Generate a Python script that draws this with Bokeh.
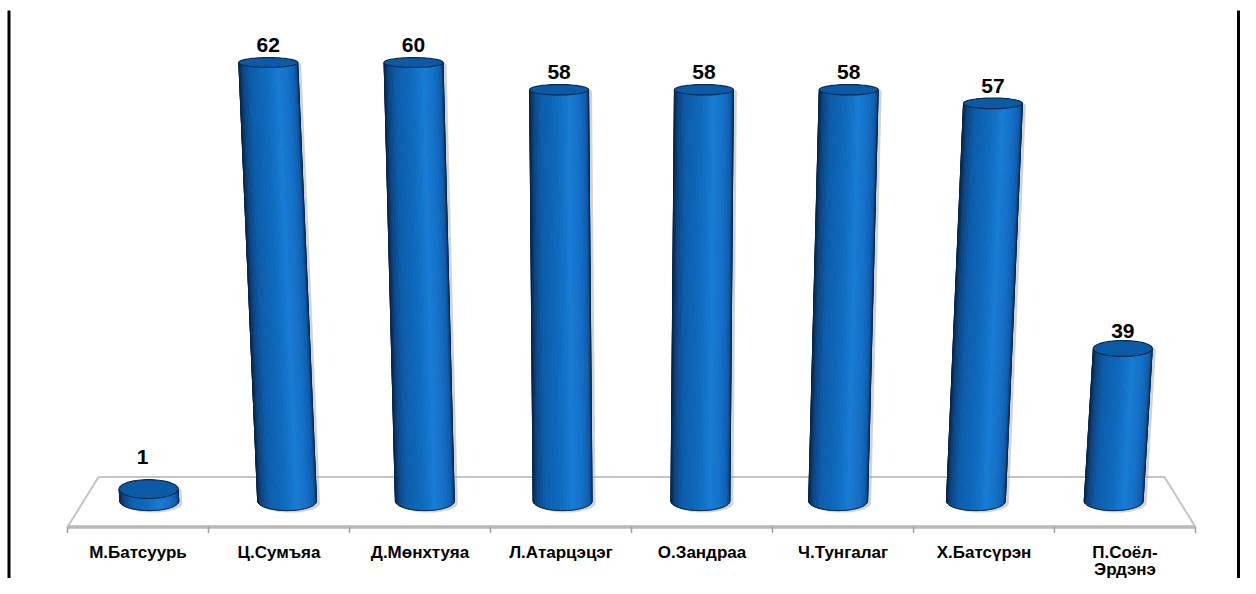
import numpy as np
from bokeh.plotting import figure
from bokeh.models import Range1d
from bokeh.core.properties import value
from bokeh.embed import file_html
from bokeh.resources import INLINE

# ---------------- data ----------------
names = ["М.Батсуурь", "Ц.Сумъяа", "Д.Мөнхтуяа", "Л.Атарцэцэг",
         "О.Зандраа", "Ч.Тунгалаг", "Х.Батсүрэн", "П.Соёл-\nЭрдэнэ"]
votes = [1, 62, 60, 58, 58, 58, 57, 39]
axis_min = 27.8
axis_max = 60

# ---------------- layout / projection ----------------
W, H = 1240, 578
PX_X = 141.0      # px per category
PX_Y = 13.62      # px per value unit
ORIGIN_X = 67     # canvas px of category boundary 0
TOP_Y = 62        # canvas px of axis_max

x_start = -ORIGIN_X / PX_X
x_end = (W - ORIGIN_X) / PX_X
y_end = axis_max + TOP_Y / PX_Y
y_start = axis_max - (H - TOP_Y) / PX_Y


def px_x(px):
    return (px - ORIGIN_X) / PX_X


def px_y(py):
    return axis_max - (py - TOP_Y) / PX_Y


n = len(names)
XC = n / 2.0
DEPTH_FRONT, DEPTH_MID, DEPTH_BACK = 1.0, 0.977, 0.945
floor_front = axis_min - 26 / PX_Y
floor_back = axis_min + 24 / PX_Y
LEAN = 0.0017
R = 0.209
E0 = 0.70
E_SLOPE = 0.0105
MIN_THICK = 0.88


def xc_at(xb, vv):
    return XC + (xb - XC) * (1 + LEAN * (vv - axis_min))


def e_at(vv):
    return E0 - E_SLOPE * (vv - axis_min)


stops = [(-1.0, (8, 36, 68)), (-0.85, (10, 68, 132)), (-0.6, (12, 92, 170)),
         (0.0, (15, 108, 194)), (0.35, (24, 124, 212)), (0.7, (20, 110, 198)),
         (0.92, (14, 92, 172)), (1.0, (10, 66, 124))]


def shade(u):
    for (u0, c0), (u1, c1) in zip(stops[:-1], stops[1:]):
        if u0 <= u <= u1:
            t = (u - u0) / (u1 - u0)
            c = [int(round(a + (b - a) * t)) for a, b in zip(c0, c1)]
            return "#%02x%02x%02x" % tuple(c)
    return "#%02x%02x%02x" % stops[-1][1]


p = figure(width=W, height=H, x_range=Range1d(x_start, x_end),
           y_range=Range1d(y_start, y_end), output_backend="svg",
           toolbar_location=None, min_border=0,
           x_axis_location=None, y_axis_location=None)
p.grid.visible = False
p.outline_line_color = None
p.background_fill_color = "white"

# floor
fx = [XC - XC * DEPTH_FRONT, XC + XC * DEPTH_FRONT, XC + XC * DEPTH_BACK, XC - XC * DEPTH_BACK]
fy = [floor_front, floor_front, floor_back, floor_back]
p.patch(fx, fy, fill_color="#ffffff", line_color="#c4c4c4", line_width=2)
p.line([fx[0], fx[1]], [floor_front, floor_front], line_color="#b8b8b8", line_width=3.5)
ticks = list(range(n + 1))
p.segment(x0=ticks, y0=[floor_front] * len(ticks), x1=ticks,
          y1=[floor_front - 6 / PX_Y] * len(ticks), line_color="#a0a0a0", line_width=1.5)

# cylinders
NS = 40
strip_xs, strip_ys, strip_c = [], [], []
shadow_xs, shadow_ys = [], []
cap_xs, cap_ys = [], []
out_xs, out_ys = [], []
lab_x, lab_y, lab_t = [], [], []
low_x, low_y, low_t = [], [], []
phis = np.linspace(np.pi, 2 * np.pi, NS + 1)
full = np.linspace(0, 2 * np.pi, 73)
for i, v in enumerate(votes):
    xb = XC + (i + 0.5 - XC) * DEPTH_MID
    vb = axis_min
    vt = max(min(v, axis_max), axis_min + MIN_THICK)
    cb, ct = xc_at(xb, vb), xc_at(xb, vt)
    eb, et = e_at(vb), e_at(vt)
    for j in range(NS):
        a0, a1 = phis[j], phis[j + 1]
        xs = [cb + R * np.cos(a0), cb + R * np.cos(a1), ct + R * np.cos(a1), ct + R * np.cos(a0)]
        ys = [vb + eb * np.sin(a0), vb + eb * np.sin(a1), vt + et * np.sin(a1), vt + et * np.sin(a0)]
        strip_xs.append(xs)
        strip_ys.append(ys)
        strip_c.append(shade(np.cos(0.5 * (a0 + a1))))
    top_back = np.linspace(np.pi, 0, 37)
    bot_front = np.linspace(2 * np.pi, np.pi, 37)
    sx = list(ct + R * np.cos(top_back)) + list(cb + R * np.cos(bot_front))
    sy = list(vt + et * np.sin(top_back)) + list(vb + eb * np.sin(bot_front))
    shadow_xs.append([x + 3.5 / PX_X for x in sx])
    shadow_ys.append([y - 2 / PX_Y for y in sy])
    cap_xs.append(list(ct + R * np.cos(full)))
    cap_ys.append(list(vt + et * np.sin(full)))
    ox = [ct + R * np.cos(np.pi)] + list(cb + R * np.cos(phis)) + [ct + R * np.cos(2 * np.pi)]
    oy = [vt] + list(vb + eb * np.sin(phis)) + [vt]
    out_xs.append(ox)
    out_ys.append(oy)
    if v >= axis_min:
        lab_x.append(ct)
        lab_y.append(vt)
        lab_t.append(str(v))
    else:
        low_x.append(ct - 6 / PX_X)
        low_y.append(vt)
        low_t.append(str(v))

p.patches(shadow_xs, shadow_ys, fill_color="#a8a8a8", fill_alpha=0.5, line_color=None)
p.patches(strip_xs, strip_ys, fill_color=strip_c, line_color=strip_c, line_width=0.8)
p.multi_line(out_xs, out_ys, line_color="#0a2744", line_width=1)
p.patches(cap_xs, cap_ys, fill_color="#0b5aa5", line_color="#0a2b4d", line_width=1.2)

lab_style = dict(text_font=value("Liberation Sans"), text_font_style="bold",
                 text_font_size="21px", text_align="center", text_baseline="middle",
                 text_color="black")
p.text(lab_x, lab_y, text=lab_t, y_offset=-17.5, **lab_style)
p.text(low_x, low_y, text=low_t, y_offset=-32, **lab_style)

# category labels
line1 = [s.split("\n")[0] for s in names]
line2_x = [i + 0.5 for i, s in enumerate(names) if "\n" in s]
line2 = [s.split("\n")[1] for s in names if "\n" in s]
cat_x = [i + 0.5 for i in range(n)]
cat_style = dict(text_font=value("Liberation Sans"), text_font_style="bold",
                 text_font_size="17px", text_align="center", text_baseline="middle",
                 text_color="black")
p.text(cat_x, [floor_front] * n, text=line1, y_offset=25.5, **cat_style)
p.text(line2_x, [floor_front] * len(line2), text=line2, y_offset=42, **cat_style)

# side frame lines
fr_x = [px_x(8.5), px_x(W - 2)]
p.segment(x0=fr_x, y0=[px_y(10)] * 2, x1=fr_x, y1=[y_start] * 2,
          line_color="black", line_width=3)

open("out.html", "w").write(file_html(p, INLINE))
